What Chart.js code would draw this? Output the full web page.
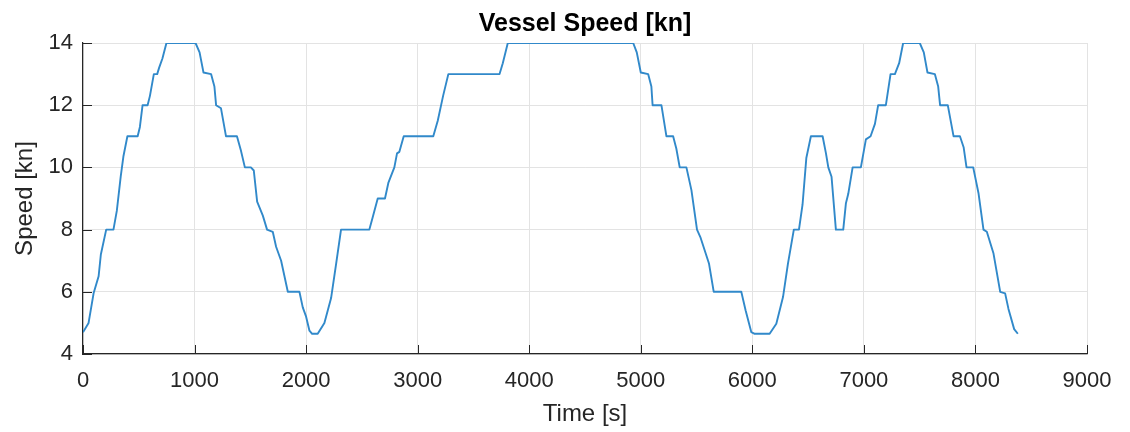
<!DOCTYPE html>
<html>
<head>
<meta charset="utf-8">
<title>Vessel Speed</title>
<script src="https://cdn.jsdelivr.net/npm/chart.js@4"></script>
<style>
  html, body { margin: 0; padding: 0; background: #fff; }
  #wrap { width: 1130px; height: 432px; }
</style>
</head>
<body>
<div id="wrap"><canvas id="speedChart" width="1130" height="432"></canvas></div>
<script>
// time stamps [s] and vessel speed [kn] along the voyage
const timeS = [
  0, 50, 95, 140, 160, 208, 273, 303, 338, 362, 398, 490, 510, 534, 579, 600,
  635, 665, 682, 712, 748, 1009, 1045, 1080, 1148, 1178, 1193, 1237, 1282, 1380,
  1415, 1451, 1505, 1531, 1561, 1612, 1650, 1701, 1731, 1776, 1836, 1940, 1970,
  2000, 2030, 2054, 2104, 2164, 2224, 2269, 2313, 2567, 2597, 2642, 2707, 2737,
  2791, 2815, 2836, 2875, 3140, 3180, 3228, 3275, 3734, 3763, 3808, 4932, 4964,
  5000, 5066, 5095, 5106, 5185, 5230, 5290, 5319, 5349, 5409, 5454, 5504, 5534,
  5612, 5654, 5901, 5940, 5991, 6021, 6155, 6215, 6275, 6319, 6372, 6418, 6450,
  6484, 6525, 6630, 6660, 6681, 6710, 6749, 6815, 6839, 6860, 6899, 6973, 7018,
  7060, 7099, 7128, 7197, 7239, 7278, 7316, 7352, 7501, 7537, 7570, 7636, 7666,
  7683, 7752, 7804, 7861, 7894, 7920, 7980, 8028, 8072, 8102, 8162, 8222, 8266,
  8296, 8347, 8380
];
const speedKn = [
  4.7, 5.0, 5.95, 6.5, 7.2, 8.0, 8.0, 8.6, 9.7, 10.35, 11.0, 11.0, 11.3, 12.0, 12.0, 12.3,
  13.0, 13.0, 13.2, 13.5, 14.0, 14.0, 13.7, 13.05, 13.0, 12.6, 12.0, 11.9, 11.0, 11.0,
  10.55, 10.0, 10.0, 9.9, 8.9, 8.45, 8.0, 7.93, 7.45, 7.0, 6.0, 6.0, 5.5,
  5.2, 4.75, 4.65, 4.65, 5.0, 5.8, 6.9, 8.0, 8.0, 8.4, 9.0, 9.0, 9.5,
  10.0, 10.45, 10.5, 11.0, 11.0, 11.5, 12.3, 13.0, 13.0, 13.35, 14.0, 14.0, 13.7,
  13.05, 13.0, 12.6, 12.0, 12.0, 11.0, 11.0, 10.6, 10.0, 10.0, 9.27, 8.0, 7.76,
  6.9, 6.0, 6.0, 5.4, 4.7, 4.65, 4.65, 4.97, 5.83, 6.9, 8.0, 8.0, 8.8,
  10.3, 11.0, 11.0, 10.45, 10.0, 9.7, 8.0, 8.0, 8.85, 9.15, 10.0, 10.0, 10.9,
  11.0, 11.4, 12.0, 12.0, 13.0, 13.0, 13.35, 14.0, 14.0, 13.7, 13.05, 13.0, 12.6,
  12.0, 12.0, 11.0, 11.0, 10.65, 10.0, 10.0, 9.16, 8.0, 7.93, 7.23, 6.0, 5.95,
  5.45, 4.8, 4.65
];

// axis limits / tick spacing
const xRange = [0, 9000];
const xStep = 1000;
const yRange = [4, 14];
const yStep = 2;

const AXIS_COLOR = '#262626';
const GRID_COLOR = '#e3e3e3';
const LINE_COLOR = '#3189ca';
const FONT = "'Liberation Sans', Arial, Helvetica, sans-serif";

// matlab-style ticks pointing into the plot box
const innerTicks = {
  id: 'innerTicks',
  beforeDatasetsDraw(chart) {
    const { ctx, chartArea, scales: { x, y } } = chart;
    const len = 9;
    ctx.save();
    ctx.strokeStyle = AXIS_COLOR;
    ctx.lineWidth = 1;
    ctx.beginPath();
    x.ticks.forEach(t => {
      const px = Math.round(x.getPixelForValue(t.value)) + 0.5;
      ctx.moveTo(px, chartArea.bottom);
      ctx.lineTo(px, chartArea.bottom - len);
    });
    y.ticks.forEach(t => {
      const py = Math.round(y.getPixelForValue(t.value)) + 0.5;
      ctx.moveTo(chartArea.left, py);
      ctx.lineTo(chartArea.left + len, py);
    });
    ctx.stroke();
    ctx.restore();
  }
};

const points = timeS.map((t, i) => ({ x: t, y: speedKn[i] }));

new Chart(document.getElementById('speedChart'), {
  type: 'line',
  data: {
    datasets: [{
      data: points,
      borderColor: LINE_COLOR,
      borderWidth: 1.9,
      borderJoinStyle: 'round',
      pointRadius: 0,
      tension: 0,
      fill: false,
    }]
  },
  options: {
    responsive: false,
    animation: false,
    devicePixelRatio: 1,
    layout: { padding: { left: 0, right: 43, top: 0, bottom: 0 } },
    plugins: {
      legend: { display: false },
      tooltip: { enabled: false },
      title: {
        display: true,
        text: 'Vessel Speed [kn]',
        fullSize: false,
        color: '#000',
        font: { family: FONT, size: 25, weight: 'bold' },
        padding: { top: 9, bottom: 4 },
      },
    },
    scales: {
      x: {
        type: 'linear',
        min: xRange[0],
        max: xRange[1],
        afterFit: s => { s.height = 78; },
        ticks: {
          stepSize: xStep,
          color: AXIS_COLOR,
          padding: 14,
          maxRotation: 0,
          font: { family: FONT, size: 22 },
          callback: v => String(v),
        },
        grid: { color: GRID_COLOR, drawTicks: false },
        border: { color: AXIS_COLOR, width: 1.2 },
        title: {
          display: true,
          text: 'Time [s]',
          color: AXIS_COLOR,
          font: { family: FONT, size: 24 },
          padding: { top: 0, bottom: 3 },
        },
      },
      y: {
        type: 'linear',
        min: yRange[0],
        max: yRange[1],
        afterFit: s => { s.width = 83; },
        ticks: {
          stepSize: yStep,
          color: AXIS_COLOR,
          padding: 10,
          font: { family: FONT, size: 22 },
          callback: v => String(v),
        },
        grid: { color: GRID_COLOR, drawTicks: false },
        border: { color: AXIS_COLOR, width: 1.2 },
        title: {
          display: true,
          text: 'Speed [kn]',
          color: AXIS_COLOR,
          font: { family: FONT, size: 24 },
          padding: { top: 11, bottom: 0 },
        },
      },
    },
  },
  plugins: [innerTicks],
});
</script>
</body>
</html>
